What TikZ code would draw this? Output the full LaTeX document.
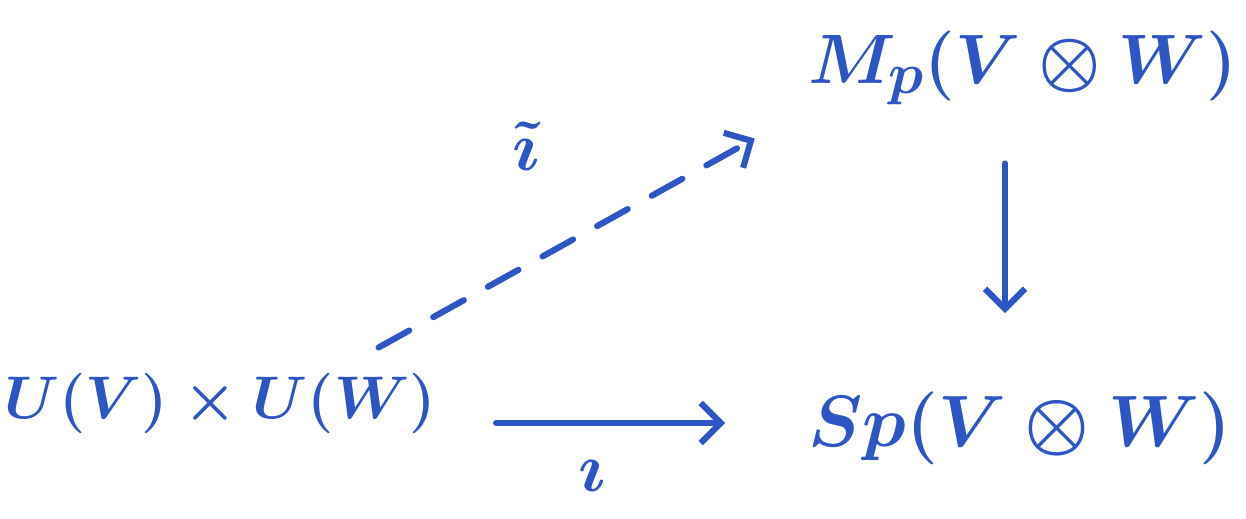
\documentclass[tikz,border=0pt]{standalone}
\usepackage{amsmath, amssymb}
\usetikzlibrary{arrows.meta,positioning}
\definecolor{inkblue}{RGB}{45,85,195}

\begin{document}
\begin{tikzpicture}[every node/.style={font=\Huge\boldmath,scale=1.6,text=inkblue,inner sep=1pt},
    map/.style={inkblue,line width=3.5pt,line cap=round,-{Straight Barb[length=4mm,width=8mm,line width=3.5pt]}}]
  \useasboundingbox (0,0) rectangle (24.92,10.36);
  \node[scale=0.86] (uvw) at (4.4,2.3) {$U(V)\times U(W)$};
  \node (mp) at (20.45,9.0) {$M_p(V\otimes W)$};
  \node[scale=1.04] (sp) at (20.4,1.8) {$Sp(V\otimes W)$};
  % lift, dashed
  \draw[map,dash pattern=on 0.7cm off 0.55cm] ([xshift=-1.2cm,yshift=0.45cm]uvw.north east) -- ([xshift=-1.0cm,yshift=-0.6cm]mp.south west) node[pos=0.45,above left=1.5cm and 0.0cm] {$\tilde{\imath}$};
  \draw[map,shorten <=1.15cm,shorten >=1.6cm] ([yshift=-0.4cm]uvw.east) -- ([yshift=-0.4cm]uvw.east -| sp.west) node[pos=0.42,below=0.6cm] {$\imath$};
  \draw[map,shorten <=1.1cm,shorten >=1.5cm] ([xshift=-0.35cm]mp.south) -- ([xshift=-0.35cm]mp.south |- sp.north);
\end{tikzpicture}
\end{document}
